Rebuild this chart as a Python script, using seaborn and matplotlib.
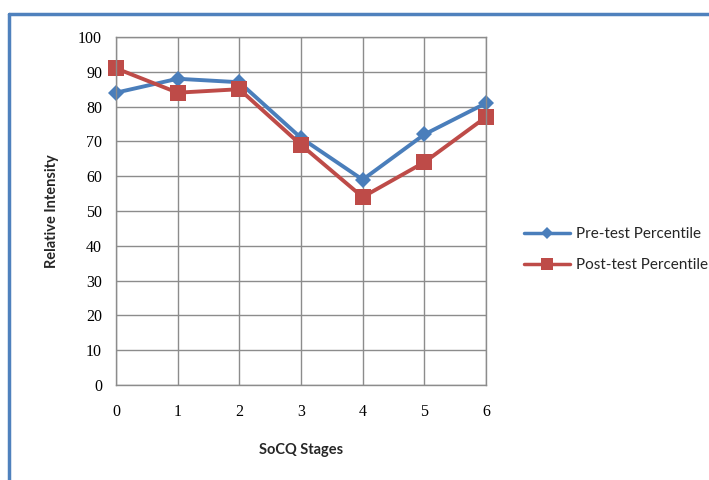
import matplotlib
matplotlib.use("Agg")
import matplotlib.pyplot as plt
from matplotlib.lines import Line2D
import seaborn as sns
import pandas as pd

stages = [0, 1, 2, 3, 4, 5, 6]
pre_test = [84, 88, 87, 71, 59, 72, 81]
post_test = [91, 84, 85, 69, 54, 64, 77]
series_names = ["Pre-test Percentile", "Post-test Percentile"]
y_ticks = [0, 10, 20, 30, 40, 50, 60, 70, 80, 90, 100]

df = pd.DataFrame({
    "stage": stages * 2,
    "value": pre_test + post_test,
    "series": [series_names[0]] * len(stages) + [series_names[1]] * len(stages),
})

sns.set_theme(style="white")
fig = plt.figure(figsize=(7.09, 4.8), dpi=100)
ax = fig.add_axes([0.1636, 0.198, 0.5219, 0.7249])

palette = {series_names[0]: "#4a7ebb", series_names[1]: "#be4b48"}
markers = {series_names[0]: "D", series_names[1]: "s"}
sns.lineplot(data=df, x="stage", y="value", hue="series", style="series",
             palette=palette, markers=markers, dashes=False, linewidth=2.8,
             markeredgewidth=0, ax=ax, legend=False)
for line in ax.get_lines():
    line.set_clip_on(False)
    if line.get_marker() == "s":
        line.set_markersize(12)
    else:
        line.set_markersize(8)

ax.set_xlim(0, 6)
ax.set_ylim(0, 100)
ax.set_xticks(stages)
ax.set_yticks(y_ticks)
ax.grid(True, color="#8c8c8c", linewidth=1.0)
ax.set_axisbelow(True)
for s in ax.spines.values():
    s.set_color("#8c8c8c")
    s.set_linewidth(1.0)
ax.tick_params(axis="both", length=0, labelsize=11.5, colors="black")
for lab in ax.get_xticklabels() + ax.get_yticklabels():
    lab.set_fontfamily("Liberation Serif")
ax.tick_params(axis="x", pad=14)
ax.tick_params(axis="y", pad=10)
ax.set_xlabel("SoCQ Stages", fontsize=10.5, fontweight="bold", family="Lato", labelpad=16)
ax.set_ylabel("Relative Intensity", fontsize=10.5, fontweight="bold", family="Lato", labelpad=14)

handles = [
    Line2D([0], [0], color="#4a7ebb", lw=2.5, marker="D", markersize=6, markeredgewidth=0),
    Line2D([0], [0], color="#be4b48", lw=2.5, marker="s", markersize=8, markeredgewidth=0),
]
fig.legend(handles, series_names, loc="center left", bbox_to_anchor=(0.72, 0.48),
           frameon=False, handlelength=3.0, handletextpad=0.4, labelspacing=1.1,
           prop={"family": "Lato", "size": 11})

fig.add_artist(Line2D([9 / 709, 1.0], [1 - 14 / 480, 1 - 14 / 480], color="#4f81bd", lw=2.5,
                      transform=fig.transFigure))
fig.add_artist(Line2D([9 / 709, 9 / 709], [0, 1 - 14 / 480], color="#4f81bd", lw=2.5,
                      transform=fig.transFigure))

fig.savefig("out.png", dpi=100)
